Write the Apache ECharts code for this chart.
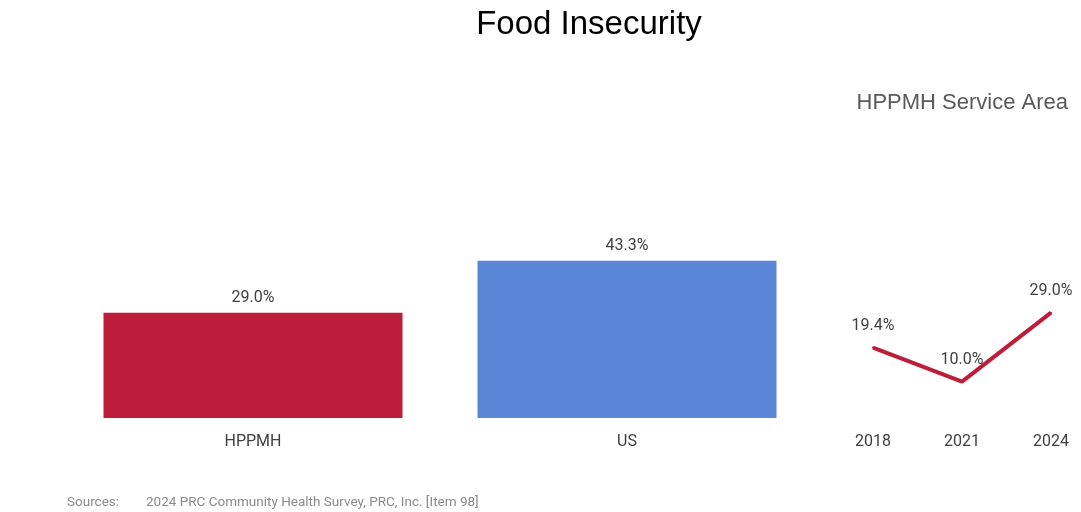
<!DOCTYPE html>
<html>
<head>
<meta charset="utf-8">
<script src="https://cdn.jsdelivr.net/npm/echarts@6/dist/echarts.min.js"></script>
<style>
  html, body { margin: 0; padding: 0; background: #fff; }
  #chart { width: 1081px; height: 512px; }
</style>
</head>
<body>
<div id="chart"></div>
<script>
// Comparison bars: service area vs. nation
const barCategories = ['HPPMH', 'US'];
const barValues = [29.0, 43.3];
const barColors = ['#BE1D39', '#5B85D6'];

// Trend for the service area
const trendYears = ['2018', '2021', '2024'];
const trendValues = [19.4, 10.0, 29.0];

const titleText = 'Food Insecurity';
const trendTitle = 'HPPMH Service Area';
const sourceLabel = 'Sources:';
const sourceText = '2024 PRC Community Health Survey, PRC, Inc. [Item 98]';

const narrow = '"Liberation Sans Narrow", "Roboto", sans-serif';
const yMax = 60;
const gridTop = 200;
const gridBottom = 94;

const chart = echarts.init(document.getElementById('chart'));
chart.setOption({
  backgroundColor: '#ffffff',
  animation: false,
  title: [
    { text: titleText, left: 584, top: 3, textAlign: 'center',
      textStyle: { fontFamily: '"Liberation Sans", Arial, sans-serif', fontSize: 33, fontWeight: 'normal', color: '#000' } },
    { text: trendTitle, right: 8, top: 87,
      textStyle: { fontFamily: '"Liberation Sans", Arial, sans-serif', fontSize: 22, fontWeight: 'normal', color: '#595959' } }
  ],
  graphic: [
    { type: 'text', left: 67, top: 496,
      style: { text: sourceLabel, font: '13.5px ' + narrow, fill: '#8a8a8a' } },
    { type: 'text', left: 146, top: 496,
      style: { text: sourceText, font: '13.5px ' + narrow, fill: '#8a8a8a' } }
  ],
  grid: [
    { left: 66, width: 748, top: gridTop, bottom: gridBottom },
    { left: 873, width: 178, top: gridTop, bottom: gridBottom }
  ],
  xAxis: [
    { type: 'category', gridIndex: 0, data: barCategories,
      axisLine: { show: false }, axisTick: { show: false },
      axisLabel: { margin: 16, fontFamily: narrow, fontSize: 16, color: '#404040' } },
    { type: 'category', gridIndex: 1, data: trendYears, boundaryGap: false,
      axisLine: { show: false }, axisTick: { show: false },
      axisLabel: { margin: 16, fontFamily: narrow, fontSize: 16, color: '#404040' } }
  ],
  yAxis: [
    { type: 'value', gridIndex: 0, min: 0, max: yMax, show: false, splitLine: { show: false } },
    { type: 'value', gridIndex: 1, min: 0, max: yMax, show: false, splitLine: { show: false } }
  ],
  series: [
    {
      type: 'bar', xAxisIndex: 0, yAxisIndex: 0,
      barWidth: 299,
      data: barValues.map((v, i) => ({ value: v, itemStyle: { color: barColors[i] } })),
      label: { show: true, position: 'top', distance: 7,
        formatter: p => p.value.toFixed(1) + '%',
        fontFamily: narrow, fontSize: 16, color: '#404040' }
    },
    {
      type: 'line', xAxisIndex: 1, yAxisIndex: 1,
      data: trendValues,
      symbol: 'circle', symbolSize: 2, showSymbol: true,
      itemStyle: { color: '#BE1D39' },
      lineStyle: { color: '#BE1D39', width: 4 },
      label: { show: true, position: 'top', distance: 13,
        formatter: p => p.value.toFixed(1) + '%',
        fontFamily: narrow, fontSize: 16, color: '#404040' }
    }
  ]
});
</script>
</body>
</html>
